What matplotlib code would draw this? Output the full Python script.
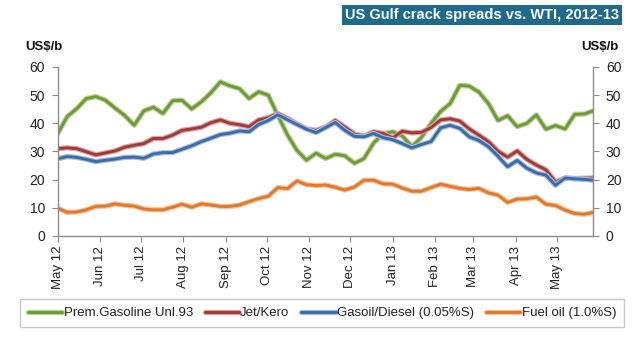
import matplotlib
matplotlib.use("Agg")
import matplotlib.pyplot as plt
import matplotlib.dates as mdates
import matplotlib.patheffects as pe
import pandas as pd
import numpy as np

plt.rcParams['font.family'] = ['Liberation Sans', 'DejaVu Sans']

# weekly observation dates
dates = pd.date_range('2012-05-01', periods=57, freq='7D')

gasoline = [36.2, 42.4, 45.2, 48.8, 49.5, 48.2, 45.4, 42.8, 39.3, 44.4,
            45.7, 43.5, 48.0, 48.2, 45.1, 47.6, 50.8, 54.7, 53.3, 52.3,
            48.8, 51.2, 50.0, 42.8, 35.9, 30.4, 26.9, 29.4, 27.5, 29.0,
            28.5, 25.8, 27.5, 33.0, 36.3, 37.0, 35.5, 31.8, 35.0, 40.0,
            44.2, 47.0, 53.5, 53.2, 51.1, 47.0, 41.0, 42.7, 38.8, 40.0,
            43.0, 37.9, 39.2, 38.0, 43.2, 43.3, 44.5]
jet = [31.0, 31.3, 31.0, 29.9, 28.8, 29.5, 30.2, 31.5, 32.2, 32.8,
       34.6, 34.6, 35.8, 37.5, 38.0, 38.6, 40.2, 41.2, 40.0, 39.5,
       38.8, 41.2, 42.0, 43.5, 41.8, 39.8, 38.0, 37.5, 38.7, 41.0,
       38.7, 36.2, 35.5, 37.0, 36.4, 34.8, 37.2, 36.6, 36.8, 38.5,
       41.2, 41.6, 40.8, 38.0, 35.8, 33.5, 30.1, 28.0, 30.2, 27.2,
       25.2, 23.5, 19.2, 20.6, 20.4, 20.5, 20.6]
gasoil = [27.4, 28.2, 27.9, 27.2, 26.4, 26.9, 27.3, 27.9, 28.0, 27.6,
          29.1, 29.6, 29.6, 30.8, 32.0, 33.5, 34.7, 36.0, 36.5, 37.3,
          37.0, 39.6, 41.0, 43.0, 41.3, 39.6, 37.9, 36.7, 38.5, 40.3,
          37.5, 35.4, 35.2, 36.4, 34.9, 34.2, 32.8, 31.3, 32.5, 33.5,
          38.4, 39.3, 38.2, 35.2, 33.9, 31.7, 28.3, 24.6, 26.8, 24.1,
          22.4, 21.6, 18.0, 20.6, 20.3, 20.1, 19.8]
fueloil = [9.9, 8.4, 8.5, 9.3, 10.5, 10.6, 11.4, 10.9, 10.6, 9.6,
           9.3, 9.3, 10.2, 11.3, 10.2, 11.4, 11.0, 10.5, 10.5, 11.0,
           12.2, 13.3, 14.1, 17.2, 16.8, 19.5, 18.2, 17.9, 18.1, 17.3,
           16.3, 17.4, 19.8, 19.8, 18.5, 18.4, 17.0, 15.9, 15.9, 17.2,
           18.4, 17.6, 16.9, 16.5, 16.9, 15.3, 14.5, 11.9, 13.1, 13.2,
           13.8, 11.3, 10.8, 9.2, 8.0, 7.7, 8.4]

series_names = ['Prem.Gasoline Unl.93', 'Jet/Kero', 'Gasoil/Diesel (0.05%S)', 'Fuel oil (1.0%S)']
series_values = [gasoline, jet, gasoil, fueloil]
colors = ['#6F9A35', '#A33A3A', '#3D6BA8', '#E2782A']
halo = ['#B9D29A', '#D9A3A3', '#A7BEDD', '#F3C49C']

yticks = [0, 10, 20, 30, 40, 50, 60]
title = 'US Gulf crack spreads vs. WTI, 2012-13'

fig = plt.figure(figsize=(6.42, 3.46), dpi=100)
ax = fig.add_axes([0.0897, 0.318, 0.8346, 0.4884])

for name, vals, c, h in zip(series_names, series_values, colors, halo):
    ax.plot(dates, vals, color=c, lw=2.1, label=name, solid_joinstyle='round',
            solid_capstyle='round',
            path_effects=[pe.Stroke(linewidth=3.8, foreground=h), pe.Normal()])

ax.set_ylim(0, 60)
ax.set_yticks(yticks)
x0 = pd.Timestamp('2012-05-01')
ax.set_xlim(x0, x0 + pd.Timedelta(days=391.7))
ax.xaxis.set_major_locator(mdates.MonthLocator())
ax.xaxis.set_major_formatter(mdates.DateFormatter('%b %y'))

ax.spines['top'].set_visible(False)
for s in ['left', 'bottom', 'right']:
    ax.spines[s].set_color('#8C8C8C')
    ax.spines[s].set_linewidth(1.0)

ax.tick_params(axis='y', which='both', left=True, right=True, labelleft=True,
               labelright=True, direction='out', length=4, color='#8C8C8C',
               labelsize=10, labelcolor='#222222', pad=5)
ax.tick_params(axis='x', direction='out', length=4, color='#8C8C8C',
               labelsize=9.5, labelcolor='#222222', pad=3)
for lbl in ax.get_xticklabels():
    lbl.set_rotation(90)

fig.text(44 / 642, 1 - 47 / 346, 'US$/b', fontsize=9.5, fontweight='bold',
         ha='center', va='center', color='#111111')
fig.text(600 / 642, 1 - 47 / 346, 'US$/b', fontsize=9.5, fontweight='bold',
         ha='center', va='center', color='#111111')

fig.text(482 / 642, 1 - 15 / 346, title, fontsize=10.5, fontweight='bold',
         color='white', ha='center', va='center',
         bbox=dict(boxstyle='square,pad=0.18', facecolor='#1E6A8C', edgecolor='none'))

leg = fig.legend(loc='center', bbox_to_anchor=(322 / 642, 1 - 313 / 346), ncol=4,
                 frameon=True, fontsize=9.5, handlelength=2.6, handletextpad=0.1,
                 columnspacing=0.9, borderpad=0.6, fancybox=False)
leg.get_frame().set_edgecolor('#BBBBBB')
leg.get_frame().set_linewidth(1.0)
for t in leg.get_texts():
    t.set_color('#222222')

fig.savefig('out.png', dpi=100)
